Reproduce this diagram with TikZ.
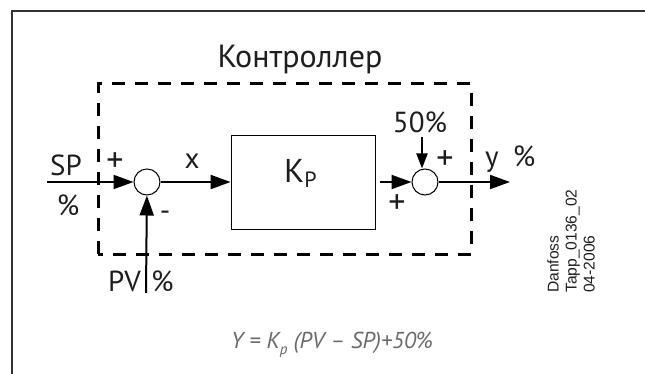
\documentclass[tikz,border=0pt]{standalone}
\usepackage{fontspec}
\setmainfont{PT Sans}
\newfontfamily\arialfont{Liberation Sans}
\usetikzlibrary{arrows.meta}
\definecolor{txt}{HTML}{1E1E1E}
\definecolor{frm}{HTML}{333333}
\definecolor{fml}{HTML}{6A6A6A}
\begin{document}
\begin{tikzpicture}[x=1pt,y=-1pt,
  lbl/.style={inner sep=0pt,text=txt,font=\fontsize{29}{32}\selectfont},
  sgn/.style={inner sep=0pt,text=txt,font=\fontsize{34}{36}\selectfont},
  sumnode/.style={circle,draw=black,line width=1pt,minimum size=26pt,inner sep=0pt,fill=white},
  kbox/.style={draw=black,line width=0.8pt,minimum width=144pt,minimum height=94pt,inner sep=0pt},
  sig/.style={line width=2pt,-{Triangle[length=20pt,width=14pt]}},
  sigv/.style={line width=2pt,-{Triangle[length=15pt,width=11pt]}},
  ctrlbox/.style={line width=3pt,dash pattern=on 13pt off 10pt}]
\useasboundingbox (0,0) rectangle (645,374);
% outer frame
\draw[frm,line width=1.2pt] (12,374) -- (12,11) -- (645,11);
% title
\node[lbl,font=\fontsize{32}{36}\selectfont,anchor=base] (title) at (300,68) {Контроллер};
% dashed controller box
\draw[ctrlbox] (98,254) -- (98,84) -- (471,84) -- (471,254) -- cycle;
% blocks
\node[sumnode] (s1) at (147,182) {};
\node[kbox] (k) at (303,182) {};
\node[sumnode] (s2) at (425,182) {};
\node[inner sep=0pt,text=txt,anchor=base west] (kp) at (284,183)
  {\fontsize{33}{33}\selectfont K\raisebox{-5pt}{\fontsize{22}{22}\selectfont P}};
% inputs / outputs
\coordinate (spin) at (47,182);
\coordinate (pvin) at (146,293);
\coordinate (kout) at (380,182);
\coordinate (yout) at (510,182);
\node[lbl,anchor=base] (fifty) at (420,133) {50\%};
\coordinate (fiftyin) at (422,137);
\draw[sig] (spin) -- (s1);
\draw[sig] (s1) -- (k);
\draw[sig] (pvin) -- (s1);
\draw[sig] (kout) -- (s2);
\draw[sigv] (fiftyin) -- (s2.north -| fiftyin);
\draw[sig] (s2) -- (yout);
% labels
\node[lbl,anchor=base] (sp) at (66,176) {SP};
\node[lbl] (sppct) at (68,205) {\%};
\node[sgn] (plus1) at (115,162) {+};
\node[lbl] (minus1) at (165,216) {-};
\node[lbl] (xl) at (192,161) {x};
\node[lbl,anchor=base east] (pv) at (141,291) {PV};
\node[lbl,anchor=base west] (pvpct) at (151,291) {\%};
\node[sgn] (plus2) at (397,204) {+};
\node[sgn] (plus3) at (445,160) {+};
\node[lbl,anchor=base] (yl) at (492,167) {y};
\node[lbl] (ypct) at (524,156) {\%};
% stamp
\node[inner sep=0pt,rotate=90,anchor=west,align=left,text=txt,
  font=\arialfont\fontsize{15.6}{18}\selectfont] (stamp) at (571,293)
  {Danfoss\\Tapp\_0136\_02\\04-2006};
% formula
\node[inner sep=0pt,anchor=base,text=fml,font=\itshape\fontsize{23}{26}\selectfont] (formula) at (332,348)
  {Y = K\raisebox{-6pt}{\fontsize{15}{15}\selectfont p} (PV – SP)+50\%};
\end{tikzpicture}
\end{document}
